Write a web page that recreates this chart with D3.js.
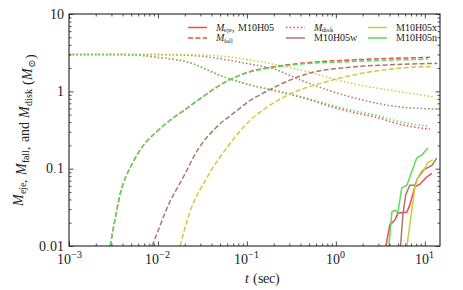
<!DOCTYPE html>
<html>
<head>
<meta charset="utf-8">
<script src="https://cdn.jsdelivr.net/npm/d3@7"></script>
<style>
  @font-face { font-family: "CMish"; font-style: normal;
    src: local("Liberation Serif"), local("LiberationSerif-Regular"), local("LiberationSerif"), local("DejaVu Serif"), local("DejaVuSerif"); }
  @font-face { font-family: "CMish"; font-style: italic;
    src: local("Liberation Serif Italic"), local("LiberationSerif-Italic"), local("DejaVu Serif Italic"), local("DejaVuSerif-Italic"); }
  body { margin: 0; background: #fff; }
</style>
</head>
<body>
<div id="chart"></div>
<script>
// ---- data ----
var models = ["M10H05", "M10H05w", "M10H05x", "M10H05n"];
var colors = ["#ee4b4b", "#a9776b", "#cccc3a", "#5ddc5d"];

// fallback mass (dashed)
var tFallA = [0.0029, 0.00315, 0.00374, 0.00528, 0.00684, 0.0097, 0.0136, 0.0193, 0.0296, 0.0591, 0.108, 0.2, 0.4, 1.44, 4, 11.4];
var fallA  = [0.01, 0.0169, 0.0455, 0.123, 0.2, 0.3, 0.42, 0.56, 0.8, 1.35, 1.8, 2.08, 2.3, 2.54, 2.66, 2.75];
var tFallW = [0.0086, 0.0105, 0.0125, 0.0193, 0.0284, 0.045, 0.0766, 0.108, 0.14, 0.33, 0.51, 1.44, 4, 13.8];
var fallW  = [0.01, 0.018, 0.03, 0.078, 0.18, 0.34, 0.56, 0.76, 0.9, 1.45, 1.72, 2.05, 2.2, 2.3];
var tFallX = [0.0177, 0.0229, 0.0352, 0.0644, 0.108, 0.16, 0.254, 0.92, 3.37, 12.3];
var fallX  = [0.01, 0.0277, 0.075, 0.21, 0.42, 0.6, 0.83, 1.4, 1.89, 2.1];
var tFallN = [0.0029, 0.00315, 0.00374, 0.00528, 0.00684, 0.0097, 0.0136, 0.0193, 0.0296, 0.0591, 0.108, 0.2, 0.4, 1.44, 4, 10.8];
var fallN  = [0.01, 0.0169, 0.0455, 0.123, 0.2, 0.3, 0.42, 0.56, 0.8, 1.35, 1.78, 2.04, 2.25, 2.42, 2.53, 2.6];

// disk mass (dotted)
var tDiskA = [0.001, 0.003, 0.0063, 0.0081, 0.0229, 0.054, 0.108, 0.235, 0.5, 0.86, 1.5, 3.1, 4.6, 7, 11.4];
var diskA  = [3.0, 3.0, 2.92, 2.82, 2.34, 1.55, 1.21, 0.98, 0.78, 0.64, 0.54, 0.45, 0.39, 0.35, 0.325];
var tDiskW = [0.001, 0.005, 0.0136, 0.03, 0.06, 0.108, 0.2, 0.4, 1.44, 5.2, 13.8];
var diskW  = [3.0, 3.0, 2.97, 2.85, 2.55, 2.25, 1.95, 1.4, 0.85, 0.63, 0.59];
var tDiskX = [0.001, 0.01, 0.03, 0.06, 0.108, 0.4, 1.44, 5.2, 12.3];
var diskX  = [3.0, 3.0, 2.95, 2.8, 2.54, 1.89, 1.28, 0.99, 0.85];
var tDiskN = [0.001, 0.003, 0.0063, 0.0081, 0.0229, 0.054, 0.108, 0.235, 0.5, 0.86, 1.5, 3.1, 4.6, 7, 10.8];
var diskN  = [3.0, 3.0, 2.92, 2.82, 2.34, 1.55, 1.22, 1.0, 0.8, 0.67, 0.57, 0.48, 0.42, 0.38, 0.356];

// ejecta mass (solid)
var tEjeA = [3.65, 4.04, 4.6, 4.97, 6.28, 6.78, 7.72, 8.79, 10.5, 12.0];
var ejeA  = [0.01, 0.0187, 0.0217, 0.0265, 0.0275, 0.034, 0.058, 0.063, 0.078, 0.087];
var tEjeW = [5.33, 5.66, 6.1, 6.78, 7.72, 8.3, 9.5, 12, 13.6];
var ejeW  = [0.01, 0.025, 0.046, 0.061, 0.061, 0.075, 0.095, 0.11, 0.137];
var tEjeX = [6.28, 7.1, 7.7, 8.3, 9.5, 10.8, 12.3];
var ejeX  = [0.01, 0.0275, 0.056, 0.075, 0.09, 0.12, 0.13];
var tEjeN = [3.95, 4.26, 4.6, 4.97, 5.5, 6.28, 8.1, 9.25, 10.8];
var ejeN  = [0.01, 0.0275, 0.029, 0.027, 0.056, 0.061, 0.137, 0.15, 0.185];

var xTicks = [0.001, 0.01, 0.1, 1, 10];
var xTickLabels = ["\u22123", "\u22122", "\u22121", "0", "1"];
var yTicks = [0.01, 0.1, 1, 10];
var yTickLabels = ["0.01", "0.1", "1", "10"];

var fall = [[tFallA, fallA], [tFallW, fallW], [tFallX, fallX], [tFallN, fallN]];
var disk = [[tDiskA, diskA], [tDiskW, diskW], [tDiskX, diskX], [tDiskN, diskN]];
var eje  = [[tEjeA, ejeA], [tEjeW, ejeW], [tEjeX, ejeX], [tEjeN, ejeN]];

function zip(p) { return p[0].map(function (t, i) { return { t: t, m: p[1][i] }; }); }

var serif = "CMish, 'Liberation Serif', 'DejaVu Serif', 'Times New Roman', serif";

// ---- layout ----
var margin = { top: 14, right: 23, bottom: 44, left: 69 },
    width = 463 - margin.left - margin.right,
    height = 290 - margin.top - margin.bottom;

var xScale = d3.scaleLog().domain([0.001, 14.8]).range([0, width]);
var yScale = d3.scaleLog().domain([0.01, 10]).range([height, 0]);

var svg = d3.select("#chart").append("svg")
    .attr("width", 463).attr("height", 290)
    .attr("font-family", serif)
    .append("g")
    .attr("transform", "translate(" + margin.left + "," + margin.top + ")");

svg.append("defs").append("clipPath").attr("id", "clip")
    .append("rect").attr("width", width).attr("height", height);

var smooth = d3.line()
    .curve(d3.curveMonotoneX)
    .x(function (d) { return xScale(d.t); })
    .y(function (d) { return yScale(d.m); });
var rough = d3.line()
    .x(function (d) { return xScale(d.t); })
    .y(function (d) { return yScale(d.m); });

var plot = svg.append("g").attr("clip-path", "url(#clip)");

// draw order: disk dotted, fallback dashed, ejecta solid
disk.forEach(function (p, i) {
    plot.append("path").attr("d", smooth(zip(p)))
        .attr("fill", "none").attr("stroke", colors[i]).attr("stroke-width", 1.5)
        .attr("stroke-dasharray", "1.5,2.2");
});
fall.forEach(function (p, i) {
    plot.append("path").attr("d", smooth(zip(p)))
        .attr("fill", "none").attr("stroke", colors[i]).attr("stroke-width", 1.5)
        .attr("stroke-dasharray", "5,2.4");
});
eje.forEach(function (p, i) {
    plot.append("path").attr("d", rough(zip(p)))
        .attr("fill", "none").attr("stroke", colors[i]).attr("stroke-width", 1.5);
});

// ---- axes: ticks inward on all four sides ----
function minorTicks(scale) {
    var d = scale.domain(), out = [];
    for (var e = Math.floor(Math.log10(d[0])); e <= Math.ceil(Math.log10(d[1])); e++) {
        for (var k = 2; k <= 9; k++) {
            var v = k * Math.pow(10, e);
            if (v >= d[0] && v <= d[1]) out.push(v);
        }
    }
    return out;
}

function styleAxis(g) {
    g.select(".domain").remove();
    g.selectAll("line").attr("stroke", "#222").attr("stroke-width", 0.8);
    g.selectAll("text").remove();
}

[
    [d3.axisBottom, "translate(0," + height + ")", xScale],
    [d3.axisTop, "translate(0,0)", xScale],
    [d3.axisLeft, "translate(0,0)", yScale],
    [d3.axisRight, "translate(" + width + ",0)", yScale]
].forEach(function (a) {
    var sc = a[2], major = sc === xScale ? xTicks : yTicks;
    svg.append("g").attr("transform", a[1])
        .call(a[0](sc).tickValues(major).tickSize(-4.5).tickFormat(""))
        .call(styleAxis);
    svg.append("g").attr("transform", a[1])
        .call(a[0](sc).tickValues(minorTicks(sc)).tickSize(-2.5).tickFormat(""))
        .call(styleAxis);
});

svg.append("rect").attr("width", width).attr("height", height)
    .attr("fill", "none").attr("stroke", "#222").attr("stroke-width", 1.1);

// tick labels
xTicks.forEach(function (v, i) {
    var t = svg.append("text").attr("x", xScale(v)).attr("y", height + 18)
        .attr("text-anchor", "middle").attr("fill", "#222")
        .style("font-family", serif).style("font-size", "14px");
    t.append("tspan").text("10");
    t.append("tspan").attr("dy", -6).style("font-size", "10px").text(xTickLabels[i]);
});
yTicks.forEach(function (v, i) {
    svg.append("text").attr("x", -5).attr("y", yScale(v) + 4.5)
        .attr("text-anchor", "end").attr("fill", "#222")
        .style("font-family", serif).style("font-size", "14px").text(yTickLabels[i]);
});

// axis titles
var xt = svg.append("text").attr("x", xScale(0.15)).attr("y", height + 37)
    .attr("text-anchor", "middle").attr("fill", "#222")
    .style("font-family", serif).style("font-size", "14px");
xt.append("tspan").style("font-style", "italic").text("t");
xt.append("tspan").text(" (sec)");

var yt = svg.append("text")
    .attr("transform", "translate(-46," + (height / 2) + ") rotate(-90)")
    .attr("text-anchor", "middle").attr("fill", "#222")
    .style("font-family", serif).style("font-size", "14px");
function mSub(sel, sub, fs, dy) {
    sel.append("tspan").style("font-style", "italic").text("M");
    sel.append("tspan").attr("dy", dy).style("font-size", fs).text(sub);
    sel.append("tspan").attr("dy", -dy).text("");
}
mSub(yt, "eje", "10px", 3); yt.append("tspan").text(", ");
mSub(yt, "fall", "10px", 3); yt.append("tspan").text(", and ");
mSub(yt, "disk", "10px", 3); yt.append("tspan").text(" (");
mSub(yt, "\u2299", "10px", 3); yt.append("tspan").text(")");

// ---- legend ----
var legendItems = [
    { col: 0, row: 0, color: colors[0], dash: null, label: "eje", extra: ", M10H05" },
    { col: 0, row: 1, color: colors[0], dash: "5,2.4", label: "fall" },
    { col: 1, row: 0, color: colors[0], dash: "1.5,2.2", label: "disk" },
    { col: 1, row: 1, color: colors[1], dash: null, text: models[1] },
    { col: 2, row: 0, color: colors[2], dash: null, text: models[2] },
    { col: 2, row: 1, color: colors[3], dash: null, text: models[3] }
];
var colX = [119, 217, 299];
legendItems.forEach(function (d) {
    var gx = colX[d.col], gy = 13.5 + d.row * 10.5;
    svg.append("line").attr("x1", gx).attr("x2", gx + 19).attr("y1", gy).attr("y2", gy)
        .attr("stroke", d.color).attr("stroke-width", 1.5)
        .attr("stroke-dasharray", d.dash);
    var t = svg.append("text").attr("x", gx + 28).attr("y", gy + 3)
        .attr("fill", "#222").style("font-family", serif).style("font-size", "9.5px");
    if (d.text) {
        t.text(d.text);
    } else {
        t.append("tspan").style("font-style", "italic").text("M");
        t.append("tspan").attr("dy", 1.5).style("font-size", "6.5px").text(d.label);
        t.append("tspan").attr("dy", -1.5).text(d.extra || "");
    }
});
</script>
</body>
</html>
